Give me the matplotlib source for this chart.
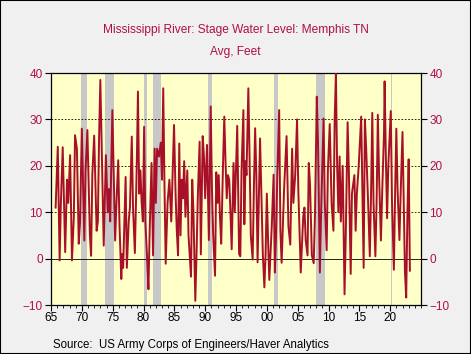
import matplotlib
matplotlib.use('Agg')
import matplotlib.pyplot as plt
from matplotlib.patches import Rectangle
from matplotlib.ticker import MultipleLocator

# Mississippi River stage at Memphis, feet (decimal years)
years = [
    1965.75, 1966.1, 1966.4, 1966.6, 1966.9, 1967.3, 1967.6, 1967.8, 1968.1, 1968.4,
    1968.7, 1968.9, 1969.2, 1969.5, 1969.7, 1970.0, 1970.4, 1970.6, 1970.9, 1971.3,
    1971.5, 1971.7, 1972.0, 1972.4, 1972.6, 1972.8, 1973.0, 1973.3, 1973.55, 1973.9,
    1974.2, 1974.4, 1974.6, 1974.95, 1975.4, 1975.6, 1975.9, 1976.1, 1976.4, 1976.55,
    1976.7, 1977.1, 1977.3, 1977.6, 1977.8, 1978.1, 1978.3, 1978.6, 1978.9, 1979.1,
    1979.3, 1979.5, 1979.7, 1979.9, 1980.1, 1980.3, 1980.6, 1980.8, 1981.0, 1981.3,
    1981.55, 1981.8, 1982.0, 1982.2, 1982.5, 1982.8, 1983.0, 1983.2, 1983.4, 1983.6,
    1983.9, 1984.2, 1984.5, 1984.95, 1985.2, 1985.4, 1985.6, 1985.8, 1986.0, 1986.2,
    1986.4, 1986.6, 1986.8, 1987.1, 1987.3, 1987.5, 1987.7, 1987.9, 1988.1, 1988.4,
    1988.6, 1988.8, 1989.1, 1989.3, 1989.6, 1989.8, 1990.0, 1990.3, 1990.6, 1990.9,
    1991.1, 1991.3, 1991.6, 1991.8, 1992.0, 1992.2, 1992.4, 1992.6, 1992.9, 1993.1,
    1993.3, 1993.5, 1993.7, 1993.9, 1994.1, 1994.3, 1994.6, 1994.8, 1995.2, 1995.5,
    1995.7, 1995.9, 1996.2, 1996.35, 1996.55, 1996.7, 1997.0, 1997.2, 1997.4, 1997.7,
    1997.9, 1998.1, 1998.3, 1998.5, 1998.7, 1998.9, 1999.1, 1999.35, 1999.6, 1999.8,
    2000.0, 2000.2, 2000.4, 2000.6, 2000.8, 2001.1, 2001.3, 2001.5, 2001.7, 2002.0,
    2002.2, 2002.4, 2002.6, 2002.8, 2003.2, 2003.5, 2003.8, 2004.1, 2004.3, 2004.6,
    2004.9, 2005.1, 2005.5, 2005.9, 2006.1, 2006.3, 2006.6, 2006.8, 2007.0, 2007.3,
    2007.6, 2007.8, 2008.1, 2008.3, 2008.6, 2008.8, 2009.2, 2009.4, 2009.7, 2009.9,
    2010.2, 2010.5, 2010.8, 2011.0, 2011.2, 2011.4, 2011.6, 2011.8, 2012.0, 2012.3,
    2012.6, 2012.8, 2013.1, 2013.3, 2013.6, 2013.8, 2014.2, 2014.4, 2014.6, 2014.9,
    2015.3, 2015.5, 2015.7, 2015.9, 2016.1, 2016.4, 2016.7, 2016.9, 2017.1, 2017.3,
    2017.6, 2017.8, 2018.0, 2018.2, 2018.5, 2018.7, 2019.0, 2019.1, 2019.3, 2019.5,
    2019.7, 2020.1, 2020.3, 2020.6, 2020.8, 2021.0, 2021.2, 2021.5, 2021.7, 2022.0,
    2022.2, 2022.4, 2022.6, 2022.8, 2023.0, 2023.2,
]
stage_ft = [
    11, 24.1, -0.4, 12, 24, 1.4, 17, 12, 22.3, -0.4,
    9, 26.6, 23.7, 3.2, 7.6, 28, 3.9, 19, 27.7, 5.3,
    0.6, 18, 26.5, 6, 8, 26.3, 38.5, 19, 2.8, 22.3,
    10, 15, 8, 32, 3.9, 11.5, 21.2, 7.6, -4.4, 1,
    -2, 17.6, -2, 8, 11, 26.3, 11, 1.2, 19.7, 36,
    14, 19, 12, 8, 28.4, 8, -0.3, -6.6, 6, 20.6,
    0.7, 23.7, 12, 23.7, 22, 25, 17, 36.7, 16, -1.1,
    12, 17, 8, 28.8, 14, 6, 0.7, 24.8, 5, 17,
    13, 21, 9, 19, 5, 0.4, -3.9, 17, 10, -9.1,
    1, 13, 25.2, 0.9, 26.4, 22, 13, 24.5, 4, 32.8,
    15, 5, -3.7, 18.6, 12, 18, 9, 3.2, 20.5, 30.6,
    21, 13, 18, 17, 10, 2, 20.6, 10, 28.6, 1,
    0.5, 19, 32, 7.4, 21, 18, 36.7, 22, 5, -0.2,
    15, 28.1, 18, -0.8, 12, 25.9, 15, 1, -6.2, 1,
    14, 4, -4.6, 1, 7, 18.1, -3, 5, 18, 32,
    6, -0.9, 7, 15, 26.4, 7, 3, 23.7, 12, 18,
    30, 15, -3, 9, 11, 4, 0.7, 20.6, 16, 0.7,
    -1, 9, 34.9, 25, -3, 10, 30.2, 12, 1.8, 19,
    29, 12, 6, 30, 39.8, 20, 10, 22, 8, 20,
    -7.7, 5, 29.4, 19, -3.3, 14, 18, 6, 14, 20,
    30.6, 14, -2, 30, 24, 13, 0.5, 14, 31.4, 12,
    0.5, 12, 31, 18, 3.9, 14, 27, 38.2, 22, 8.7,
    20, 31.8, 12, -2.4, 14, 28, 15, 4, 14, 27.3,
    12, -3, -8.4, 10, 21.4, -2.6,
]

# NBER recessions shaded on the chart
rec_start = [1969.92, 1973.83, 1980.0, 1981.5, 1990.5, 2001.17, 2007.92, 2020.08]
rec_end = [1970.83, 1975.17, 1980.5, 1982.83, 1991.17, 2001.83, 2009.42, 2020.25]

x_ticks = list(range(1965, 2021, 5))
x_labels = ['65', '70', '75', '80', '85', '90', '95', '00', '05', '10', '15', '20']
y_ticks = [-10, 0, 10, 20, 30, 40]

red = '#a8102a'
label_red = '#b01040'
plt.rcParams['font.family'] = ['Liberation Sans', 'DejaVu Sans']

fig = plt.figure(figsize=(4.71, 3.54), dpi=100, facecolor='#f0f0f0')
fig.patches.append(Rectangle((0, 0), 1, 1, transform=fig.transFigure, fill=False,
                             edgecolor='black', linewidth=1.5))
ax = fig.add_axes([51 / 471, 1 - 305 / 354, 370 / 471, 232 / 354])
ax.set_facecolor('#ffffc8')

for s, e in zip(rec_start, rec_end):
    ax.axvspan(s, e, color='#c8c8c8', lw=0, zorder=1)

for v in [10, 20, 30]:
    ax.axhline(v, color='black', lw=0.6, ls=(0, (2, 2)), zorder=2)
ax.axhline(0, color='black', lw=0.6, zorder=2)

ax.plot(years, stage_ft, color=red, lw=1.4, zorder=3)

ax.set_xlim(1965, 2025)
ax.set_ylim(-10, 40)
ax.set_xticks(x_ticks)
ax.set_xticklabels(x_labels)
ax.xaxis.set_minor_locator(MultipleLocator(1))
ax.set_yticks(y_ticks)
ax.tick_params(axis='x', which='major', length=4, width=0.8, labelsize=8.5, pad=1)
ax.tick_params(axis='x', which='minor', length=2, width=0.6)
ax.tick_params(axis='y', length=4, width=0.8, labelsize=8.5, labelcolor=label_red,
               left=True, right=True, labelleft=True, labelright=True, pad=2)
for sp in ax.spines.values():
    sp.set_linewidth(0.9)

fig.text(0.5, 1 - 30 / 354, 'Mississippi River: Stage Water Level: Memphis TN',
         ha='center', va='center', color=label_red, fontsize=8.6)
fig.text(0.5, 1 - 52 / 354, 'Avg, Feet', ha='center', va='center',
         color=label_red, fontsize=8.6)
fig.text(53 / 471, 1 - 345 / 354, 'Source:  US Army Corps of Engineers/Haver Analytics',
         ha='left', va='center', color='black', fontsize=8.3)

fig.savefig('out.png', dpi=100, facecolor=fig.get_facecolor())
